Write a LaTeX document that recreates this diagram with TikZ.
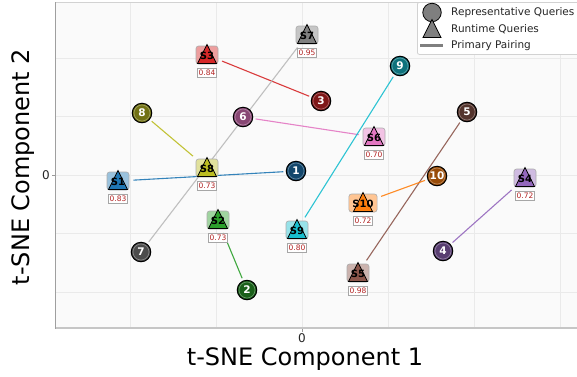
\documentclass[tikz,border=0pt]{standalone}
\usepackage{fontspec}
\setmainfont{DejaVu Sans}
\usetikzlibrary{calc}
\pgfdeclarelayer{back}
\pgfdeclarelayer{lines}
\pgfsetlayers{back,lines,main}
\definecolor{tca}{HTML}{1F77B4}
\definecolor{tcb}{HTML}{2CA02C}
\definecolor{tcc}{HTML}{D62728}
\definecolor{tcd}{HTML}{9467BD}
\definecolor{tce}{HTML}{8C564B}
\definecolor{tcf}{HTML}{E377C2}
\definecolor{tcg}{HTML}{7F7F7F}
\definecolor{tch}{HTML}{BCBD22}
\definecolor{tci}{HTML}{17BECF}
\definecolor{tcj}{HTML}{FF7F0E}
\definecolor{plotbg}{HTML}{FAFAFA}
\definecolor{gridc}{HTML}{EAEAEA}
\definecolor{valred}{HTML}{B22222}
\newcommand{\fsz}[1]{\fontsize{#1}{#1}\selectfont}
\tikzset{
  pair/.style={line width=1.1pt, shorten <=4pt, shorten >=2.5pt, opacity=0.9},
  sbox/.style={draw=gray!65, rounded corners=2.5pt, line width=0.6pt, minimum width=22pt, minimum height=18pt, inner xsep=3.5pt, inner ysep=0pt, font=\fsz{10}\bfseries},
  stext/.style={inner sep=0pt, font=\fsz{10}\bfseries, text=black},
  vbox/.style={draw=gray!70, fill=white, line width=0.6pt, inner xsep=1.3pt, inner ysep=0pt, minimum height=9.5pt, font=\fsz{7.5}, text=valred},
  qc/.style={circle, draw=black, line width=1pt, minimum size=19.5pt, inner sep=0pt, font=\fsz{10.5}\bfseries, text=white},
  legtext/.style={anchor=west, inner sep=0pt, font=\fsz{10.5}, text=black!85},
  axlab/.style={font=\fsz{24}, text=black, inner sep=0pt},
  ticklab/.style={font=\fsz{12}, text=black!85, inner sep=0pt}
}
\newcommand{\rnode}[6]{%
  \node[sbox, fill=#4!45!white] (#1) at (#2,#3) {\phantom{#5}};
  \draw[fill=#4, line width=0.7pt, line join=miter] (#2-9.5,#3+8.5) -- (#2,#3-10.5) -- (#2+9.5,#3+8.5) -- cycle;
  \node[stext] (#1t) at (#2,#3+0.5) {#5};
  \node[vbox] (#1v) at (#2,#3+18) {#6};
}
\newcommand{\qnode}[5]{%
  \node[qc, fill=#4!60!black] (#1) at (#2,#3) {#5};
  \draw[white, opacity=0.35, line width=0.6pt] (#1.center) circle (8pt);
}
\begin{document}
\begin{tikzpicture}[x=1pt, y=-1pt]
\useasboundingbox (0,0) rectangle (577,376);
\clip (0,0) rectangle (577,376);
% plot area
\begin{pgfonlayer}{back}
  \fill[plotbg] (55,2) rectangle (590,328);
  \foreach \gx in {130,216,302,388,474,560} \draw[gridc, line width=0.7pt] (\gx,2) -- (\gx,328);
  \foreach \gy in {58,116.5,175,233.5,292} \draw[gridc, line width=0.7pt] (55,\gy) -- (590,\gy);
  \draw[gray!35, line width=0.8pt] (55,2) -- (590,2);
  \draw[gray!45, line width=2pt] (55,328) -- (590,328);
  \draw[gray!75, line width=1pt] (55,2) -- (55,329);
  \draw[gray!80, line width=0.6pt] (302,329) -- (302,332);
  \draw[gray!80, line width=0.6pt] (52,175) -- (55,175);
\end{pgfonlayer}
% runtime queries
\rnode{sa}{118}{181}{tca}{S1}{0.83}
\rnode{sb}{218}{220}{tcb}{S2}{0.73}
\rnode{sc}{207}{55}{tcc}{S3}{0.84}
\rnode{sd}{525}{178}{tcd}{S4}{0.72}
\rnode{se}{358}{273}{tce}{S5}{0.98}
\rnode{sf}{374}{137}{tcf}{S6}{0.70}
\rnode{sg}{307}{35}{tcg}{S7}{0.95}
\rnode{sh}{207}{168}{tch}{S8}{0.73}
\rnode{si}{297}{230}{tci}{S9}{0.80}
\rnode{sj}{363}{203}{tcj}{S10}{0.72}
% representative queries
\qnode{qa}{296}{171}{tca}{1}
\qnode{qb}{247}{290}{tcb}{2}
\qnode{qc}{321}{101}{tcc}{3}
\qnode{qd}{443}{251}{tcd}{4}
\qnode{qe}{467}{112}{tce}{5}
\qnode{qf}{243}{117}{tcf}{6}
\qnode{qg}{141}{252}{tcg}{7}
\qnode{qh}{142}{113}{tch}{8}
\qnode{qi}{400}{66}{tci}{9}
\qnode{qj}{437}{176}{tcj}{10}
% pairing lines
\begin{pgfonlayer}{lines}
  \draw[pair, tca] (sa) -- (qa);
  \draw[pair, tcb] (sb) -- (qb);
  \draw[pair, tcc] (sc) -- (qc);
  \draw[pair, tcd] (sd) -- (qd);
  \draw[pair, tce] (se) -- (qe);
  \draw[pair, tcf] (sf) -- (qf);
  \draw[pair, tcg!55!white] (sg) -- (qg);
  \draw[pair, tch] (sh) -- (qh);
  \draw[pair, tci] (si) -- (qi);
  \draw[pair, tcj] (sj) -- (qj);
\end{pgfonlayer}
% axes labels
\node[ticklab] (xt) at (302,338.5) {0};
\node[ticklab] (yt) at (46,175) {0};
\node[axlab, anchor=base] (xl) at (305,365.5) {t-SNE Component 1};
\node[axlab, rotate=90] (yl) at (23,167) {t-SNE Component 2};
% legend
\node[draw=gray!35, fill=white, rounded corners=2pt, line width=0.8pt, minimum width=180pt, minimum height=52pt, inner sep=0pt, anchor=north west] (leg) at (417,2) {};
\node[circle, draw=black, fill=tcg, line width=0.8pt, minimum size=18.5pt, inner sep=0pt] (lc) at (432,12.5) {};
\coordinate (lt) at (432,29);
\draw[fill=tcg, line width=0.8pt] ($(lt)+(-9,8.5)$) -- ($(lt)+(0,-9.5)$) -- ($(lt)+(9,8.5)$) -- cycle;
\coordinate (la) at (420,45.5);
\coordinate (lb) at (443,45.5);
\draw[tcg, line width=2.2pt] (la) -- (lb);
\node[legtext] (l1) at (451,13) {Representative Queries};
\node[legtext] (l2) at (451,29.5) {Runtime Queries};
\node[legtext] (l3) at (451,45.5) {Primary Pairing};
\end{tikzpicture}
\end{document}
